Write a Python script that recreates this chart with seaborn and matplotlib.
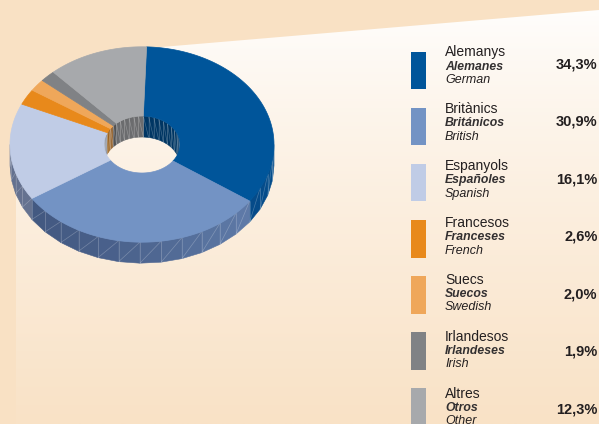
import numpy as np
import matplotlib
matplotlib.use("Agg")
import matplotlib.pyplot as plt
from matplotlib.patches import Polygon, Rectangle
import seaborn as sns

# data
labels_ca = ["Alemanys", "Britànics", "Espanyols", "Francesos", "Suecs", "Irlandesos", "Altres"]
labels_es = ["Alemanes", "Británicos", "Españoles", "Franceses", "Suecos", "Irlandeses", "Otros"]
labels_en = ["German", "British", "Spanish", "French", "Swedish", "Irish", "Other"]
shares = [34.3, 30.9, 16.1, 2.6, 2.0, 1.9, 12.3]
share_labels = ["34,3%", "30,9%", "16,1%", "2,6%", "2,0%", "1,9%", "12,3%"]
slice_colors = ["#00559A", "#7393C4", "#C0CCE6", "#E8891B", "#EFA75A", "#808285", "#A7A9AC"]

sns.set_style("white")
plt.rcParams["font.family"] = ["Liberation Sans", "DejaVu Sans"]
pal = sns.color_palette(slice_colors)

PEACH = "#F9E1C4"
TXT = "#231F20"

fig = plt.figure(figsize=(5.99, 4.24), dpi=100)
fig.patch.set_facecolor(PEACH)
ax = fig.add_axes([0, 0, 1, 1])
ax.set_facecolor(PEACH)

# light panel behind the chart (white at top fading to peach)
t = np.linspace(0, 1, 256)[:, None] ** 0.8
top = np.array([1.0, 1.0, 1.0])
bot = np.array([249, 226, 198]) / 255
img = (top * (1 - t) + bot * t)[:, None, :]
im = ax.imshow(img, extent=(0, 599, 424, 0), aspect="auto", zorder=0)
panel = Polygon([(16, 424), (16, 150), (145, 48.4), (599, 10), (599, 424)],
                closed=True, facecolor="none", edgecolor="none")
ax.add_patch(panel)
im.set_clip_path(panel)

# donut geometry (pixel units)
cx, cy = 142, 144.5
rxo, ryo = 132, 97.7
rxi, ryi = 38, 28.5
depth = 21
start = 88.0
navy = np.array([25, 38, 72]) / 255


def pt(rx, ry, th, dy=0.0):
    r = np.radians(th)
    return cx + rx * np.cos(r), cy - ry * np.sin(r) + dy


def overlap(a, b, lo, hi):
    out = []
    for k in (-2, -1, 0, 1):
        l, h = lo + 360 * k, hi + 360 * k
        s, e = max(a, l), min(b, h)
        if e > s:
            out.append((s, e))
    return out


def wall(a, b, rx, ry, col, outer, step):
    n = max(2, int(np.ceil((b - a) / step)) + 1)
    th = np.linspace(a, b, n)
    c = np.array(col)
    for t0, t1 in zip(th[:-1], th[1:]):
        x0, y0 = pt(rx, ry, t0)
        x1, y1 = pt(rx, ry, t1)
        if outer:
            xm = (x0 + x1) / 2
            f = 0.45 + 0.38 * np.clip((xm - 10) / 264, 0, 1) ** 1.5
            fc = c * f + navy * (1 - f)
        else:
            fc = c * 0.64
        fc = np.clip(fc, 0, 1)
        q = [(x0, y0), (x1, y1), (x1, y1 + depth), (x0, y0 + depth)]
        ax.add_patch(Polygon(q, closed=True, facecolor=fc, edgecolor=fc, lw=0.4, zorder=2))
        ax.plot([x0, x0], [y0, y0 + depth], color="white", alpha=0.25, lw=0.5, zorder=2.1)
        ax.plot([x1, x0], [y1, y0 + depth], color="white", alpha=0.25, lw=0.5, zorder=2.1)


total = sum(shares)
bounds = []
cum = 0.0
for s in shares:
    a0 = start - 360 * cum / total
    cum += s
    a1 = start - 360 * cum / total
    bounds.append((a1, a0))

# outer front wall and inner back wall
for (a1, a0), col in zip(bounds, pal):
    for s, e in overlap(a1, a0, -180, 0):
        wall(s, e, rxo, ryo, col, True, 10)
    for s, e in overlap(a1, a0, 0, 180):
        wall(s, e, rxi, ryi, col, False, 8)

# top faces
for (a1, a0), col in zip(bounds, pal):
    th = np.linspace(a0, a1, 120)
    xo, yo = pt(rxo, ryo, th)
    xi, yi = pt(rxi, ryi, th[::-1])
    verts = np.column_stack([np.r_[xo, xi], np.r_[yo, yi]])
    ax.add_patch(Polygon(verts, closed=True, facecolor=col, edgecolor=col, lw=0.5, zorder=3))

# legend
for i in range(len(shares)):
    ax.add_patch(Rectangle((410.5, 51.7 + 56.1 * i), 15.5, 37.6,
                           facecolor=pal[i], edgecolor="none", zorder=4))
    yb = 56.3 + 56.9 * i
    ax.text(445, yb, labels_ca[i], fontsize=10, color=TXT, va="baseline", ha="left", zorder=5)
    ax.text(445, yb + 13.3, labels_es[i], fontsize=8.8, style="italic", fontweight="bold",
            color="#333031", va="baseline", ha="left", zorder=5)
    ax.text(445, yb + 26.5, labels_en[i], fontsize=9, style="italic",
            color=TXT, va="baseline", ha="left", zorder=5)
    ax.text(597.5, 68.3 + 57.5 * i, share_labels[i], fontsize=10.5, fontweight="bold",
            color=TXT, va="baseline", ha="right", zorder=5)

ax.set_xlim(0, 599)
ax.set_ylim(424, 0)
ax.axis("off")

fig.savefig("out.png", dpi=100, facecolor=fig.get_facecolor())
